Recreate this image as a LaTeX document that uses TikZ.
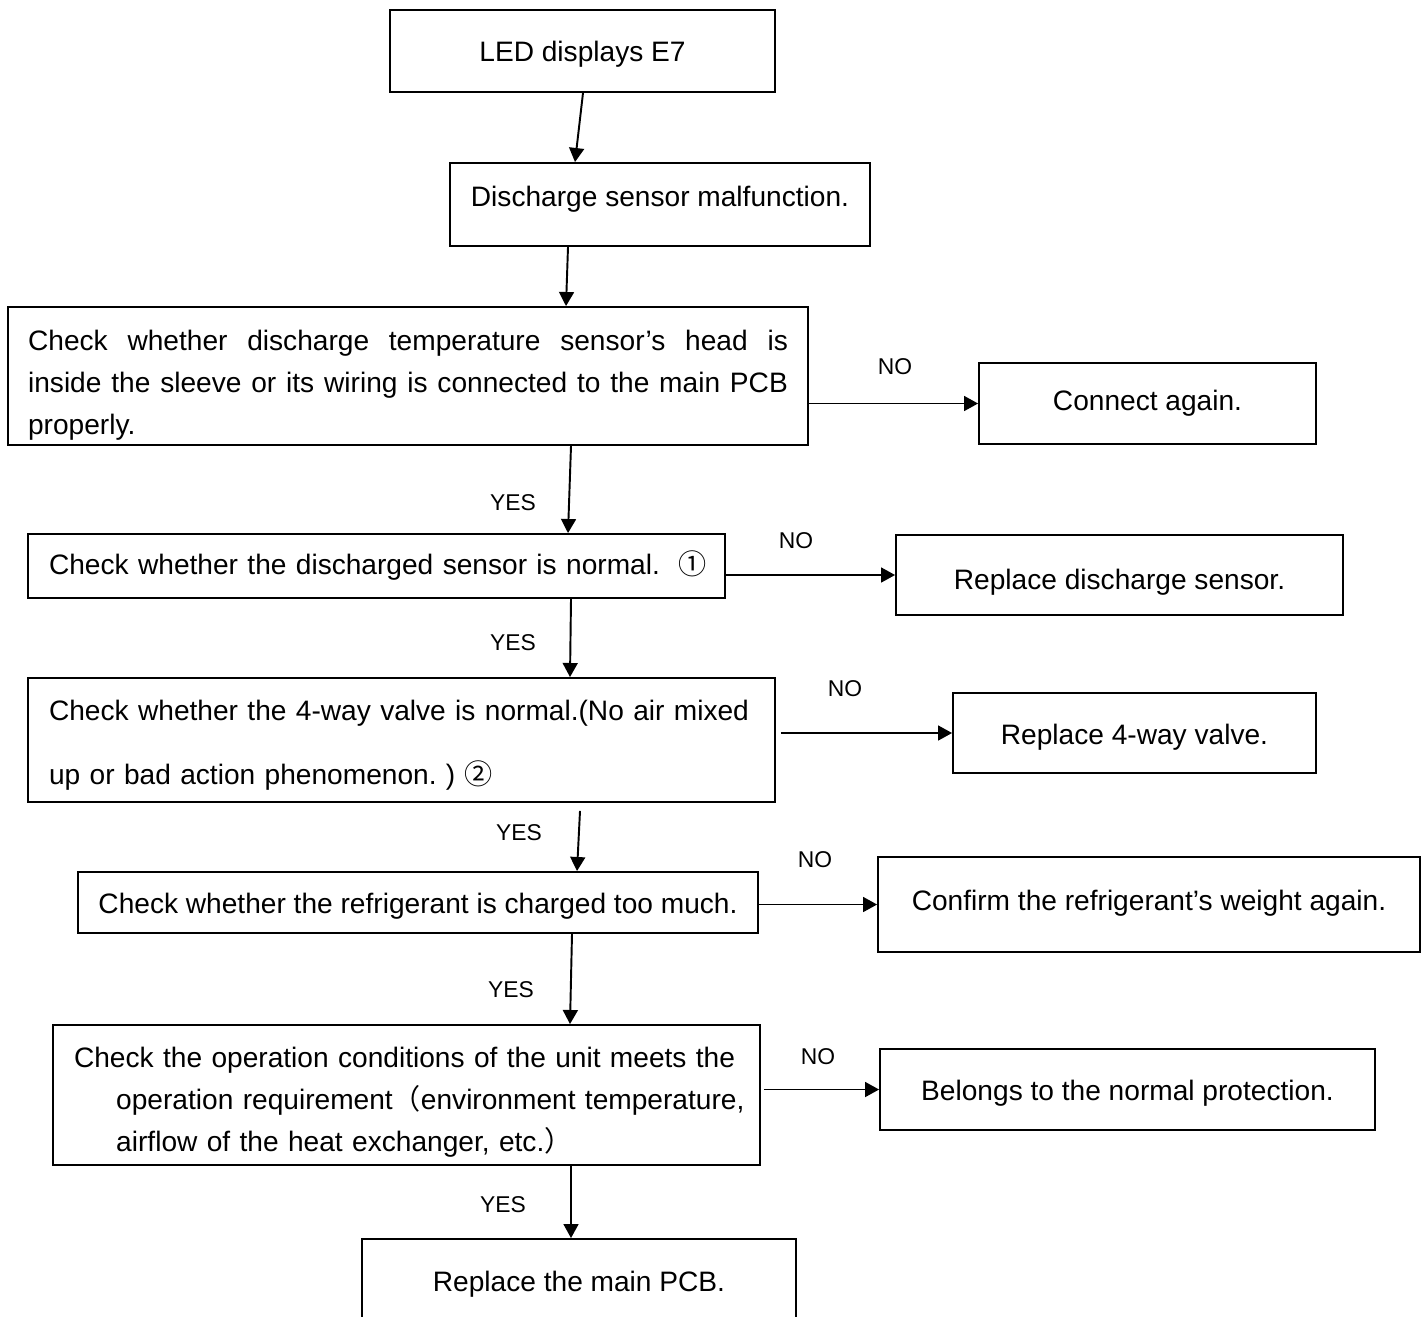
\documentclass[tikz,border=0pt]{standalone}
\usepackage{fontspec}
\setmainfont{Liberation Sans}
\newfontfamily\cjk{Noto Sans CJK SC}
\usetikzlibrary{arrows.meta}

\newcommand{\dropstrut}[1]{\rule{0pt}{#1}}

\tikzset{
  box/.style={draw, line width=1.1pt, inner sep=0pt, font=\fontsize{16}{24}\selectfont},
  arr/.style={-{Triangle[length=8pt,width=8.5pt]}, line width=1.1pt},
  yn/.style={font=\fontsize{13}{15}\selectfont, inner sep=0pt},
}

\begin{document}
\begin{tikzpicture}[x=0.02cm, y=-0.02cm]
\useasboundingbox (0,0) rectangle (1425,1316);
% Boxes
\node[box, minimum width=7.7cm, minimum height=1.64cm] (led) at (582.5,51) {\dropstrut{15pt}LED displays E7};
\node[box, minimum width=8.4cm, minimum height=1.66cm] (dis) at (660,204.5) {\raisebox{0.34cm}{Discharge sensor malfunction.}};
\node[box, minimum width=16cm, minimum height=2.76cm, text width=15.2cm, align=justify] (chk1) at (408,376)
  {\dropstrut{22pt}Check whether discharge temperature sensor’s head is\linebreak
   inside the sleeve or its wiring is connected to the main PCB\linebreak
   properly.};
\node[box, minimum width=6.74cm, minimum height=1.62cm] (con) at (1147.5,403.5) {Connect again.};
\node[box, minimum width=13.94cm, minimum height=1.28cm, text width=13.1cm, align=left] (chk2) at (376.5,566)
  {\mbox{Check whether the discharged sensor is normal.\ \ {\cjk ①}}};
\node[box, minimum width=8.94cm, minimum height=1.6cm] (rep1) at (1119.5,575) {\dropstrut{19.7pt}Replace discharge sensor.};
\node[box, minimum width=14.94cm, minimum height=2.48cm, text width=14.1cm, align=left] (chk3) at (401.5,740)
  {\dropstrut{17.4pt}Check whether the 4-way valve is normal.(No air mixed\\[12pt]
   up or bad action phenomenon.~)~{\cjk ②}};
\node[box, minimum width=7.26cm, minimum height=1.6cm] (rep2) at (1134.5,733) {\dropstrut{16.3pt}Replace 4-way valve.};
\node[box, minimum width=13.6cm, minimum height=1.22cm] (chk4) at (418,902.5) {\dropstrut{16pt}Check whether the refrigerant is charged too much.};
\node[box, minimum width=10.84cm, minimum height=1.9cm] (conf) at (1149,904.5) {\raisebox{0.18cm}{Confirm the refrigerant’s weight again.}};
\node[box, minimum width=14.14cm, minimum height=2.8cm, text width=13.3cm, align=left] (chk5) at (406.5,1095)
  {\mbox{\dropstrut{19.7pt}Check the operation conditions of the unit meets the}\\
   \mbox{\hspace*{24pt}operation requirement{\cjk （}environment temperature,}\\
   \mbox{\hspace*{24pt}airflow of the heat exchanger, etc.{\cjk ）}}};
\node[box, minimum width=9.9cm, minimum height=1.62cm] (bel) at (1127.5,1089.5) {\dropstrut{16pt}Belongs to the normal protection.};
\node[box, minimum width=8.68cm, minimum height=1.68cm] (pcb) at (579,1281) {\dropstrut{15pt}Replace the main PCB.};
% Labels
\node[yn] (no1) at (895,367) {NO};
\node[yn] (no2) at (796,541) {NO};
\node[yn] (no3) at (845,689) {NO};
\node[yn] (no4) at (815,860) {NO};
\node[yn] (no5) at (818,1057) {NO};
\node[yn] (yes1) at (513,503) {YES};
\node[yn] (yes2) at (513,643) {YES};
\node[yn] (yes3) at (519,833) {YES};
\node[yn] (yes4) at (511,990) {YES};
\node[yn] (yes5) at (503,1205) {YES};
% Arrows down
\draw[arr] (led.south -| 583,0) -- (dis.north -| 575,0);
\draw[arr] (dis.south -| 568,0) -- (chk1.north -| 566,0);
\draw[arr] (chk1.south -| 571,0) -- (chk2.north -| 568,0);
\draw[arr] (chk2.south -| 571,0) -- (chk3.north -| 570,0);
\draw[arr] (chk3.south -| 580,0) ++(0,8) -- (chk4.north -| 577,0);
\draw[arr] (chk4.south -| 572,0) -- (chk5.north -| 570,0);
\draw[arr] (chk5.south -| 571,0) -- (pcb.north -| 571,0);
% Arrows right
\draw[arr] (chk1.east |- con.west) -- (con.west);
\draw[arr] (chk2.east |- rep1.west) -- (rep1.west);
\draw[arr] (chk3.east |- rep2.west) ++(5,0) -- (rep2.west);
\draw[arr] (chk4.east |- conf.west) -- (conf.west);
\draw[arr] (chk5.east |- bel.west) ++(3,0) -- (bel.west);
\end{tikzpicture}
\end{document}
